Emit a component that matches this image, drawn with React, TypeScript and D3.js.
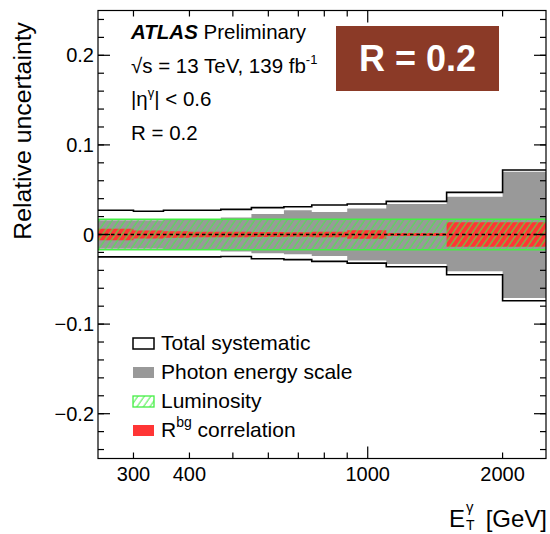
import React from 'react';
import * as d3 from 'd3';

// Bin edges in photon E_T [GeV]
const binEdges = [250, 300, 350, 400, 470, 550, 650, 750, 900, 1100, 1500, 2000, 2500];
// Total systematic (upper / lower magnitude)
const totalUp = [0.027, 0.026, 0.027, 0.027, 0.028, 0.030, 0.031, 0.033, 0.034, 0.037, 0.047, 0.072];
const totalDown = [0.025, 0.025, 0.025, 0.025, 0.0245, 0.027, 0.028, 0.030, 0.032, 0.036, 0.045, 0.074];
// Photon energy scale
const energyUp = [0.016, 0.016, 0.0165, 0.017, 0.019, 0.023, 0.027, 0.025, 0.029, 0.034, 0.042, 0.070];
const energyDown = [0.016, 0.016, 0.0165, 0.017, 0.019, 0.021, 0.022, 0.024, 0.029, 0.033, 0.041, 0.071];
// Luminosity
const lumiUnc = [0.017, 0.017, 0.017, 0.017, 0.017, 0.017, 0.017, 0.017, 0.017, 0.017, 0.017, 0.017];
// R^bg correlation
const rbgUnc = [0.0065, 0.0045, 0.0037, 0.003, 0.003, 0.0028, 0.0025, 0.003, 0.0048, 0.0018, 0.0137, 0.0137];

const xTickLabels = [300, 400, 1000, 2000];
const xMinorTicks = [500, 600, 700, 800, 900];
const yTickLabels = [-0.2, -0.1, 0, 0.1, 0.2];

const FONT = '"Liberation Sans", Arial, Helvetica, sans-serif';
const GRAY = '#999999';
const RED = '#ff3535';
const GREEN = '#44ee44';

export default function App() {
  const left = 98, right = 546, top = 10.5, bottom = 458.5;
  const x = d3.scaleLog().domain([250, 2500]).range([left, right]);
  const y = d3.scaleLinear().domain([-0.25, 0.25]).range([bottom, top]);

  const rows = (up: number[], down: number[]) =>
    binEdges.map((e, i) => {
      const k = Math.min(i, up.length - 1);
      return { e, u: up[k], d: down[k] };
    });

  const areaGen = d3
    .area<{ e: number; u: number; d: number }>()
    .x((d) => x(d.e))
    .y0((d) => y(-d.d))
    .y1((d) => y(d.u))
    .curve(d3.curveStepAfter);

  const upperLine = d3
    .line<{ e: number; u: number; d: number }>()
    .x((d) => x(d.e))
    .y((d) => y(d.u))
    .curve(d3.curveStepAfter);
  const lowerLine = d3
    .line<{ e: number; u: number; d: number }>()
    .x((d) => x(d.e))
    .y((d) => y(-d.d))
    .curve(d3.curveStepAfter);

  const totalRows = rows(totalUp, totalDown);
  const energyRows = rows(energyUp, energyDown);
  const lumiRows = rows(lumiUnc, lumiUnc);
  const rbgRows = rows(rbgUnc, rbgUnc);

  const yMinor = y.ticks(25);
  const fmt = (v: number) => (v === 0 ? '0' : String(v).replace('-', '\u2212'));

  const legendX = 133;
  const legendBase = [350, 379, 408, 437];

  return (
    <svg
      width={550}
      height={534}
      style={{ position: 'absolute', left: 0, top: 0, background: '#fff' }}
      fontFamily={FONT}
    >
      <defs>
        <pattern
          id="hatch"
          patternUnits="userSpaceOnUse"
          width={5.3}
          height={10}
          patternTransform="rotate(35)"
        >
          <line x1={1} y1={0} x2={1} y2={10} stroke={GREEN} strokeWidth={1} />
        </pattern>
        <clipPath id="plot">
          <rect x={left} y={top} width={right - left} height={bottom - top} />
        </clipPath>
      </defs>
      <rect x={0} y={0} width={550} height={534} fill="#fff" />

      <g clipPath="url(#plot)">
        {/* photon energy scale */}
        <path d={areaGen(energyRows) || ''} fill={GRAY} />
        {/* R^bg correlation */}
        <path d={areaGen(rbgRows) || ''} fill={RED} />
        {/* luminosity hatch */}
        <path d={areaGen(lumiRows) || ''} fill="url(#hatch)" />
        <path d={upperLine(lumiRows) || ''} fill="none" stroke={GREEN} strokeWidth={1.3} />
        <path d={lowerLine(lumiRows) || ''} fill="none" stroke={GREEN} strokeWidth={1.3} />
        {/* zero line */}
        <line
          x1={left}
          x2={right}
          y1={y(0)}
          y2={y(0)}
          stroke="#000"
          strokeWidth={1.5}
          strokeDasharray="3.5,3"
        />
        {/* total systematic */}
        <path d={upperLine(totalRows) || ''} fill="none" stroke="#000" strokeWidth={1.6} />
        <path d={lowerLine(totalRows) || ''} fill="none" stroke="#000" strokeWidth={1.6} />
      </g>

      {/* frame */}
      <rect x={left} y={top} width={right - left} height={bottom - top} fill="none" stroke="#000" strokeWidth={1.2} />

      {/* x ticks bottom & top */}
      {[...xTickLabels, ...xMinorTicks].map((v) => {
        const len = v === 1000 ? 12 : 6;
        return (
          <g key={'xt' + v}>
            <line x1={x(v)} x2={x(v)} y1={bottom} y2={bottom - len} stroke="#000" strokeWidth={1.2} />
            <line x1={x(v)} x2={x(v)} y1={top} y2={top + len} stroke="#000" strokeWidth={1.2} />
          </g>
        );
      })}
      {xTickLabels.map((v) => (
        <text key={'xl' + v} x={x(v)} y={481} textAnchor="middle" fontSize={20}>
          {v}
        </text>
      ))}

      {/* y ticks */}
      {yMinor.map((v) => (
        <g key={'ym' + v}>
          <line x1={left} x2={left + 6} y1={y(v)} y2={y(v)} stroke="#000" strokeWidth={1.2} />
          <line x1={right} x2={right - 6} y1={y(v)} y2={y(v)} stroke="#000" strokeWidth={1.2} />
        </g>
      ))}
      {yTickLabels.map((v) => (
        <g key={'yt' + v}>
          <line x1={left} x2={left + 12} y1={y(v)} y2={y(v)} stroke="#000" strokeWidth={1.2} />
          <line x1={right} x2={right - 12} y1={y(v)} y2={y(v)} stroke="#000" strokeWidth={1.2} />
          <text x={94} y={y(v) + 7} textAnchor="end" fontSize={20}>
            {fmt(v)}
          </text>
        </g>
      ))}

      {/* axis titles */}
      <text transform="translate(31,22) rotate(-90)" textAnchor="end" fontSize={24.8}>
        Relative uncertainty
      </text>
      <text x={449} y={527} fontSize={24}>E</text>
      <text x={466} y={512} fontSize={15}>γ</text>
      <text x={466} y={530} fontSize={14}>T</text>
      <text x={547} y={527} fontSize={24} textAnchor="end">[GeV]</text>

      {/* ATLAS label */}
      <text x={131} y={39} fontSize={20.5}>
        <tspan fontWeight="bold" fontStyle="italic">ATLAS</tspan>
        <tspan> Preliminary</tspan>
      </text>
      <text x={131} y={73} fontSize={20.5}>
        <tspan>√s = 13 TeV, 139 fb</tspan>
        <tspan fontSize={13} dy={-9}>-1</tspan>
      </text>
      <text x={131} y={106} fontSize={20.5}>
        <tspan>|η</tspan>
        <tspan fontSize={13} dy={-9}>γ</tspan>
        <tspan dy={9}>| &lt; 0.6</tspan>
      </text>
      <text x={131} y={140} fontSize={20.5}>R = 0.2</text>

      {/* R box */}
      <rect x={336} y={26} width={163} height={65} fill="#8b3a27" />
      <text x={417.5} y={71} textAnchor="middle" fontSize={36} fontWeight="bold" fill="#fff">
        R = 0.2
      </text>

      {/* legend */}
      <rect x={legendX} y={legendBase[0] - 12} width={21} height={11} fill="#fff" stroke="#000" strokeWidth={1.5} />
      <rect x={legendX} y={legendBase[1] - 12} width={21} height={11} fill={GRAY} />
      <rect x={legendX} y={legendBase[2] - 12} width={21} height={11} fill="url(#hatch)" stroke={GREEN} strokeWidth={1.3} />
      <rect x={legendX} y={legendBase[3] - 12} width={21} height={11} fill={RED} />
      <text x={161} y={legendBase[0]} fontSize={21}>Total systematic</text>
      <text x={161} y={legendBase[1]} fontSize={21}>Photon energy scale</text>
      <text x={161} y={legendBase[2]} fontSize={21}>Luminosity</text>
      <text x={161} y={legendBase[3]} fontSize={21}>
        <tspan>R</tspan>
        <tspan fontSize={14} dy={-10}>bg</tspan>
        <tspan dy={10}> correlation</tspan>
      </text>
    </svg>
  );
}
